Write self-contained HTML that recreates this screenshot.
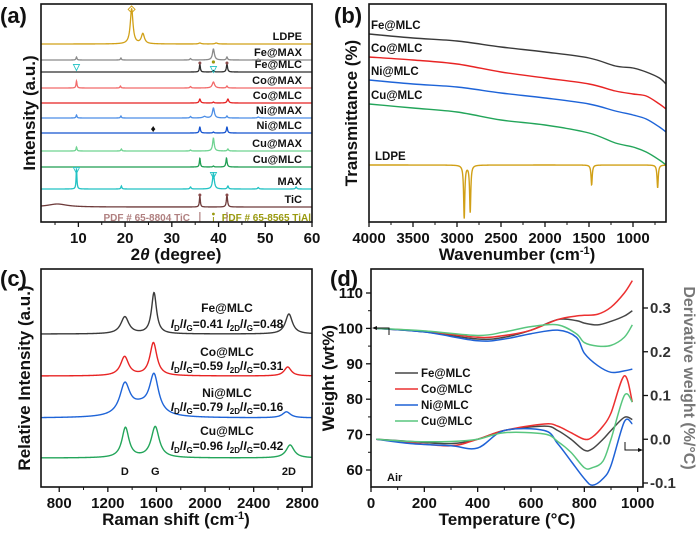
<!DOCTYPE html>
<html><head><meta charset="utf-8"><style>
body{margin:0;background:#fff}
svg{font-family:"Liberation Sans",Arial,sans-serif;font-weight:bold}
</style></head><body>
<svg id="fig" width="700" height="531" viewBox="0 0 700 531" xmlns="http://www.w3.org/2000/svg"></svg>
<script>
// ---------- Panel (a) XRD data ----------
const xrdNames=["LDPE","Fe@MAX","Fe@MLC","Co@MAX","Co@MLC","Ni@MAX","Ni@MLC","Cu@MAX","Cu@MLC","MAX","TiC"];
const xrdColors=["#d1a017","#8a8a8a","#2e2e2e","#f26a6a","#e52222","#4c8ee6","#1453cf","#6fd391","#1f9e52","#22c2c4","#6e3b3b"];
const xrdBase=[178,162,150,134,119,104,89,71,55,33,15];
const xrdPeakPos=[[21.4,23.8,36,39.5],[9.6,19.1,34,38.9,41.8,48.5],[36,38.9,41.8],[9.6,19,34,38.9,41.8],[36,38.9,42],[9.6,19.1,34,37,38.9,41.8,48.5],[36,38.9,41.8],[9.6,19.2,34,38.9,42],[36,38.9,41.7],[9.6,19.2,34,38.9,42,48.5,56.6],[5.5,36,41.8]];
const xrdPeakH=[[35,10,1,1],[3,2,1.5,11,3,1],[8,1.5,8],[7,2,1.5,6,2],[4,1,4],[3,2,1.5,1.5,10,2,1],[6,1,6],[4,2,1,13,2],[9,1,9],[21,3,2,16,3,1.5,2],[3,11,12]];
const xrdPeakW=[[0.35,0.4,0.3,0.3],[0.12,0.12,0.15,0.25,0.15,0.2],[0.12,0.15,0.15],[0.12,0.12,0.15,0.3,0.15],[0.18,0.15,0.2],[0.12,0.12,0.15,0.4,0.25,0.15,0.2],[0.15,0.15,0.15],[0.12,0.12,0.15,0.2,0.15],[0.12,0.15,0.15],[0.1,0.12,0.15,0.22,0.15,0.15,0.15],[2.5,0.12,0.15]];
const xrdTicks=[10,20,30,40,50,60];
// ---------- Panel (b) FTIR data ----------
const ftNames=["Fe@MLC","Co@MLC","Ni@MLC","Cu@MLC"];
const ftColors=["#3a3a3a","#e82424","#1e64d8","#23a55a"];
const ftWave=[4000,3500,3000,2500,2000,1500,1200,1000,850,700,625];
const ftFe=[188,184,181,175,170,164,156,154,150,144,138];
const ftCo=[165,162,158,150,144,138,131,128,126,118,113];
const ftNi=[142,138,135,129,124,118,111,107,103,95,90];
const ftCu=[118,114,110,102,97,89,79,75,70,62,57];
const ldpeBase=57;
const ldpeDipPos=[2918,2850,1470,720];
const ldpeDipDepth=[53,47,20,23];
const ftTicks=[4000,3500,3000,2500,2000,1500,1000];
// ---------- Panel (c) Raman data ----------
const rmNames=["Fe@MLC","Co@MLC","Ni@MLC","Cu@MLC"];
const rmColors=["#3a3a3a","#e82424","#1e64d8","#23a55a"];
const rmRatio=[["0.41","0.48"],["0.59","0.31"],["0.79","0.16"],["0.96","0.42"]];
const rmBase=[153,111,69,29];
const rmPos=[[1340,1580,2690],[1338,1575,2680],[1340,1580,2670,1470],[1345,1590,2700]];
const rmH=[[17,41,20],[19,33,9],[30,38,6,10],[30,31,13]];
const rmW=[[40,25,35],[40,35,35],[50,45,40,120],[35,40,40]];
const rmTicks=[800,1200,1600,2000,2400,2800];
// ---------- Panel (d) TGA data ----------
const tgNames=["Fe@MLC","Co@MLC","Ni@MLC","Cu@MLC"];
const tgColors=["#474747","#ec3030","#1f62d6","#58c67e"];
const tgT=[20,200,400,500,600,700,770,800,850,900,950,980];
const wFe=[100,99,97,97.5,99.5,102.5,102.2,101.5,101,102,103.5,105];
const wCo=[100,99.2,97.5,98,99.5,102.5,103.5,103.7,104,106,110,113.5];
const wNi=[100,99,96.5,97,98.5,99.5,97.5,93,89.5,87.6,88,88.5];
const wCu=[100,99.3,98,99,100.5,101,98.5,96,95,95.2,97.5,101];
const dT=[20,150,300,400,500,650,700,750,800,830,870,900,950,980];
const dFe=[0,-0.005,-0.01,0,0.02,0.03,0.02,0,-0.025,-0.022,0,0.02,0.05,0.045];
const dCo=[0,-0.008,-0.015,0,0.02,0.035,0.03,0.015,0,0.005,0.03,0.06,0.145,0.085];
const dNi=[0,-0.01,-0.015,-0.02,0.02,0.02,-0.01,-0.05,-0.09,-0.105,-0.09,-0.06,0.04,0.035];
const dCu=[0,-0.005,-0.005,0,0.015,0.012,-0.005,-0.03,-0.065,-0.065,-0.05,0,0.1,0.085];
const tgTicks=[0,200,400,600,800,1000];
const wTicks=[60,70,80,90,100,110];
const dTicks=[-0.1,0.0,0.1,0.2,0.3];

const svg=document.getElementById('fig');
const NS="http://www.w3.org/2000/svg";
function mk(tag,attrs,parent){const e=document.createElementNS(NS,tag);for(const k in attrs)e.setAttribute(k,attrs[k]);(parent||svg).appendChild(e);return e;}
function txt(s,x,y,size,anchor,parent,fill){const t=mk('text',{x:x,y:y,'font-size':size,'text-anchor':anchor||'middle',fill:fill||'#111'},parent);t.textContent=s;return t;}
function lin(d0,d1,r0,r1){return v=>r0+(v-d0)/(d1-d0)*(r1-r0);}
function poly(pts){return pts.map((p,i)=>(i?'L':'M')+p[0].toFixed(2)+' '+p[1].toFixed(2)).join(' ');}
function smooth(pts){let d='M'+pts[0][0].toFixed(2)+' '+pts[0][1].toFixed(2);
 for(let i=0;i<pts.length-1;i++){const p0=pts[i-1]||pts[i],p1=pts[i],p2=pts[i+1],p3=pts[i+2]||p2;
  const c1=[p1[0]+(p2[0]-p0[0])/6,p1[1]+(p2[1]-p0[1])/6],c2=[p2[0]-(p3[0]-p1[0])/6,p2[1]-(p3[1]-p1[1])/6];
  d+=' C'+c1.map(v=>v.toFixed(2)).join(' ')+' '+c2.map(v=>v.toFixed(2)).join(' ')+' '+p2[0].toFixed(2)+' '+p2[1].toFixed(2);}
 return d;}
function frame(g,x0,y0,x1,y1){mk('rect',{x:x0,y:y0,width:x1-x0,height:y1-y0,fill:'none',stroke:'#111','stroke-width':1.6},g);}
function xticks(g,vals,sx,y,minor){vals.forEach(v=>{mk('line',{x1:sx(v),x2:sx(v),y1:y,y2:y+5,stroke:'#111','stroke-width':1.3},g);txt(String(v),sx(v),y+21,15,'middle',g);});
 if(minor)minor.forEach(v=>mk('line',{x1:sx(v),x2:sx(v),y1:y,y2:y+3,stroke:'#111','stroke-width':1},g));}
function peaksCurve(x0,x1,n,base,pos,h,w){const pts=[];for(let i=0;i<=n;i++){const x=x0+(x1-x0)*i/n;let y=base;pos.forEach((p,k)=>{const d=(x-p)/w[k];y+=h[k]/(1+d*d);});pts.push([x,y]);}return pts;}

// ===== Panel A =====
(function(){
 const g=mk('g',{});
 const X0=41,X1=312,Y0=4,Y1=222;
 const sx=lin(2,60,X0,X1), sy=lin(0,218,Y1,Y0);
 txt('(a)',0,23,22,'start',g);
 xrdNames.forEach((nm,i)=>{
  const pts=peaksCurve(2,60,1200,xrdBase[i],xrdPeakPos[i],xrdPeakH[i],xrdPeakW[i]).map(p=>[sx(p[0]),sy(p[1])]);
  const p=mk('path',{d:poly(pts),fill:'none',stroke:xrdColors[i],'stroke-width':1.3},g);
  
  
  const t=txt(nm,302,sy(xrdBase[i])-4,11,'end',g);
  
  
 });
 txt('◇',sx(21.4),12,10,'middle',g,'#d1a017');
 txt('▽',sx(9.6),70,9,'middle',g,'#22c2c4');
 txt('▽',sx(38.9),72,9,'middle',g,'#22c2c4');
 txt('▽',sx(9.6),173,9,'middle',g,'#22c2c4');
 txt('▽',sx(38.9),178,9,'middle',g,'#22c2c4');
 [36,41.8].forEach(v=>{mk('circle',{cx:sx(v),cy:63,r:1.5,fill:'#8a4b4b'},g);mk('circle',{cx:sx(v),cy:195,r:1.5,fill:'#8a4b4b'},g);});
 mk('circle',{cx:sx(38.9),cy:62,r:1.6,fill:'#9a9a10'},g);
 txt('♦',sx(26),132,10,'middle',g,'#111');
 txt('PDF # 65-8804 TiC',190,221,10,'end',g,'#b08080');
 txt('PDF # 65-8565 TiAl',311,221,10,'end',g,'#9a9a10');
 mk('line',{x1:sx(36),x2:sx(36),y1:212,y2:222,stroke:'#b08080','stroke-width':1.2},g);
 mk('line',{x1:sx(41.8),x2:sx(41.8),y1:212,y2:222,stroke:'#b08080','stroke-width':1.2},g);
 mk('circle',{cx:sx(38.9),cy:214,r:1.4,fill:'#9a9a10'},g);
 mk('line',{x1:sx(38.9),x2:sx(38.9),y1:217,y2:222,stroke:'#9a9a10','stroke-width':1},g);
 frame(g,X0,Y0,X1,Y1);
 xticks(g,xrdTicks,sx,Y1,[5,15,25,35,45,55]);
 const yt=txt('Intensity (a.u.)',0,0,17,'middle',g);yt.setAttribute('transform','translate(35,113) rotate(-90)');
 const xt=mk('text',{x:176,y:260,'font-size':17,'text-anchor':'middle',fill:'#111'},g);xt.innerHTML='2<tspan font-style="italic">θ</tspan> (degree)';
})();

// ===== Panel B =====
(function(){
 const g=mk('g',{});
 const X0=369,X1=666,Y0=4,Y1=222;
 const sx=lin(4000,625,X0,X1), sy=lin(0,218,Y1,Y0);
 txt('(b)',334,23,22,'start',g);
 const series=[ftFe,ftCo,ftNi,ftCu];
 series.forEach((vals,i)=>{
  const pts=ftWave.map((w,k)=>[sx(w),sy(vals[k])]);
  const p=mk('path',{d:smooth(pts),fill:'none',stroke:ftColors[i],'stroke-width':1.4},g);
  
  
  txt(ftNames[i],371,sy(vals[0])-5,11.5,'start',g);
 });
 const pts=[];for(let i=0;i<=1500;i++){const w=4000-(4000-625)*i/1500;let y=ldpeBase;ldpeDipPos.forEach((p,k)=>{const d=(w-p)/8;y-=ldpeDipDepth[k]/(1+d*d);});pts.push([sx(w),sy(y)]);}
 const lp=mk('path',{d:poly(pts),fill:'none',stroke:'#d1a017','stroke-width':1.4},g);
 
 txt('LDPE',375,sy(ldpeBase)-5,11.5,'start',g);
 frame(g,X0,Y0,X1,Y1);
 xticks(g,ftTicks,sx,Y1,[3750,3250,2750,2250,1750,1250,750]);
 const yt=txt('Transmittance (%)',0,0,17,'middle',g);yt.setAttribute('transform','translate(357,113) rotate(-90)');
 const xt=mk('text',{x:517,y:260,'font-size':17,'text-anchor':'middle',fill:'#111'},g);xt.innerHTML='Wavenumber (cm<tspan dy="-6" font-size="11">-1</tspan><tspan dy="6">)</tspan>';
})();

// ===== Panel C =====
(function(){
 const g=mk('g',{});
 const X0=41,X1=312,Y0=269,Y1=487;
 const sx=lin(650,2880,X0,X1), sy=lin(0,218,Y1,Y0);
 txt('(c)',0,286,22,'start',g);
 const labY=[[312,328],[356,370],[397,411],[435,450]];
 rmNames.forEach((nm,i)=>{
  const raw=peaksCurve(650,2880,900,rmBase[i],rmPos[i],rmH[i],rmW[i]);
  const pts=raw.map(p=>[sx(p[0]),sy(p[1])]);
  const p=mk('path',{d:poly(pts),fill:'none',stroke:rmColors[i],'stroke-width':1.4},g);
  
  
  txt(nm,227,labY[i][0],12,'middle',g);
  const r=mk('text',{x:227,y:labY[i][1],'font-size':12,'text-anchor':'middle',fill:'#111'},g);
  r.innerHTML='<tspan font-style="italic">I</tspan><tspan font-size="8" dy="3">D</tspan><tspan dy="-3">/</tspan><tspan font-style="italic">I</tspan><tspan font-size="8" dy="3">G</tspan><tspan dy="-3">='+rmRatio[i][0]+' </tspan><tspan font-style="italic">I</tspan><tspan font-size="8" dy="3">2D</tspan><tspan dy="-3">/</tspan><tspan font-style="italic">I</tspan><tspan font-size="8" dy="3">G</tspan><tspan dy="-3">='+rmRatio[i][1]+'</tspan>';
  
 });
 txt('D',sx(1340),475,11,'middle',g);txt('G',sx(1590),475,11,'middle',g);txt('2D',sx(2690),475,11,'middle',g);
 frame(g,X0,Y0,X1,Y1);
 xticks(g,rmTicks,sx,Y1,[1000,1400,1800,2200,2600]);
 const yt=txt('Relative Intensity (a.u.)',0,0,17,'middle',g);yt.setAttribute('transform','translate(30,378) rotate(-90)');
 const xt=mk('text',{x:176,y:525,'font-size':17,'text-anchor':'middle',fill:'#111'},g);xt.innerHTML='Raman shift (cm<tspan dy="-6" font-size="11">-1</tspan><tspan dy="6">)</tspan>';
})();

// ===== Panel D =====
(function(){
 const g=mk('g',{});
 const X0=371,X1=643,Y0=269,Y1=487;
 const sx=lin(0,1020,X0,X1), sw=lin(110,60,293,470), sd=lin(0.3,-0.1,308,483);
 txt('(d)',330,286,22,'start',g);
 [wFe,wCo,wNi,wCu].forEach((vals,i)=>{
  const p=mk('path',{d:smooth(tgT.map((t,k)=>[sx(t),sw(vals[k])])),fill:'none',stroke:tgColors[i],'stroke-width':1.5},g);
  
  
 });
 [dFe,dCo,dNi,dCu].forEach((vals,i)=>{
  const p=mk('path',{d:smooth(dT.map((t,k)=>[sx(t),sd(vals[k])])),fill:'none',stroke:tgColors[i],'stroke-width':1.5},g);
  
  
 });
 tgNames.forEach((nm,i)=>{const y=373+i*16;mk('line',{x1:395,x2:418,y1:y,y2:y,stroke:tgColors[i],'stroke-width':1.6},g);
  const t=txt(nm,421,y+4,11.5,'start',g);});
 txt('Air',387,481,11,'start',g);
 mk('path',{d:'M389 335 L389 328 L375 328',fill:'none',stroke:'#111','stroke-width':1},g);
 mk('path',{d:'M372 328 L377 326 L377 330 Z',fill:'#111'},g);
 mk('path',{d:'M625 442 L625 450 L640 450',fill:'none',stroke:'#111','stroke-width':1},g);
 mk('path',{d:'M643 450 L638 448 L638 452 Z',fill:'#111'},g);
 frame(g,X0,Y0,X1,Y1);
 xticks(g,tgTicks,sx,Y1,[100,300,500,700,900]);
 wTicks.forEach(v=>{mk('line',{x1:X0,x2:X0-5,y1:sw(v),y2:sw(v),stroke:'#111','stroke-width':1.3},g);txt(String(v),363,sw(v)+5,15,'end',g);});
 [65,75,85,95,105].forEach(v=>mk('line',{x1:X0,x2:X0-3,y1:sw(v),y2:sw(v),stroke:'#111','stroke-width':1},g));
 dTicks.forEach(v=>{mk('line',{x1:X1,x2:X1+5,y1:sd(v),y2:sd(v),stroke:'#111','stroke-width':1.3},g);txt(v.toFixed(1),650,sd(v)+5,15,'start',g,'#333');});
 const yt=txt('Weight (wt%)',0,0,17,'middle',g);yt.setAttribute('transform','translate(334,378) rotate(-90)');
 const yr=txt('Derivative weight (%/°C)',0,0,16,'middle',g,'#777');yr.setAttribute('transform','translate(684,378) rotate(90)');
 const xt=txt('Temperature (°C)',507,525,17,'middle',g);
})();
</script>
</body></html>
